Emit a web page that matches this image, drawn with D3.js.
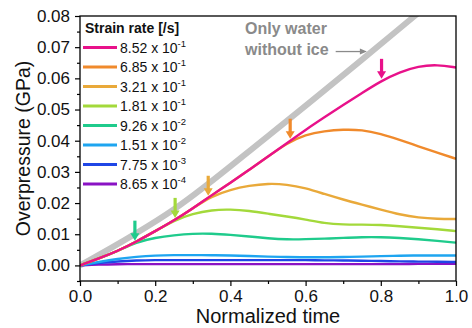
<!DOCTYPE html>
<html>
<head>
<meta charset="utf-8">
<script src="https://cdn.jsdelivr.net/npm/d3@7"></script>
<style>
  body { margin: 0; background: #fff; }
  svg { display: block; font-family: Arial, "Liberation Sans", sans-serif; }
</style>
</head>
<body>
<div id="chart"></div>
<script>
// normalized time grid
const time = [0, 0.05, 0.1, 0.15, 0.2, 0.25, 0.3, 0.35, 0.4, 0.45, 0.5,
              0.55, 0.6, 0.65, 0.7, 0.75, 0.8, 0.85, 0.9, 0.95, 1.0];

// overpressure (GPa) per strain rate
const rate852e1 = [0, 0.0022, 0.0046, 0.0076, 0.0110, 0.0144, 0.0183, 0.0225, 0.0265, 0.0307, 0.0349,
                   0.0392, 0.0435, 0.0475, 0.0515, 0.0553, 0.0591, 0.0620, 0.0639, 0.0644, 0.0635];
const rate685e1 = [0, 0.0022, 0.0046, 0.0076, 0.0110, 0.0144, 0.0183, 0.0225, 0.0265, 0.0307, 0.0349,
                   0.0392, 0.0420, 0.0431, 0.0436, 0.0435, 0.0422, 0.0403, 0.0382, 0.0362, 0.0342];
const rate321e1 = [0, 0.0022, 0.0046, 0.0076, 0.0110, 0.0144, 0.0183, 0.0222, 0.0243, 0.0256, 0.0263,
                   0.0260, 0.0248, 0.0229, 0.0211, 0.0195, 0.0179, 0.0163, 0.0153, 0.0149, 0.0149];
const rate181e1 = [0, 0.0022, 0.0046, 0.0076, 0.0110, 0.0144, 0.0166, 0.0178, 0.0180, 0.0175, 0.0166,
                   0.0157, 0.0147, 0.0135, 0.0131, 0.0131, 0.0130, 0.0126, 0.0121, 0.0116, 0.0110];
const rate926e2 = [0, 0.0022, 0.0046, 0.0075, 0.0089, 0.0097, 0.0102, 0.0102, 0.0098, 0.0093, 0.0087,
                   0.0083, 0.0084, 0.0086, 0.0088, 0.0091, 0.0091, 0.0088, 0.0084, 0.0079, 0.0073];
const rate151e2 = [0, 0.0011, 0.0021, 0.0028, 0.0032, 0.0033, 0.0033, 0.0033, 0.0032, 0.0030, 0.0028,
                   0.0027, 0.0026, 0.0026, 0.0027, 0.0028, 0.0030, 0.0031, 0.0032, 0.0032, 0.0032];
const rate775e3 = [0, 0.0008, 0.0013, 0.0016, 0.0017, 0.0017, 0.0017, 0.0017, 0.0017, 0.0017, 0.0017,
                   0.0017, 0.0017, 0.0016, 0.0016, 0.0015, 0.0014, 0.0013, 0.0012, 0.0012, 0.0011];
const rate865e4 = [0, 0.0003, 0.0004, 0.0004, 0.0004, 0.0004, 0.0004, 0.0004, 0.0004, 0.0004, 0.0004,
                   0.0004, 0.0004, 0.0004, 0.0004, 0.0004, 0.0004, 0.0004, 0.0005, 0.0005, 0.0005];

// reference: only water without ice
const waterTime = [0, 0.25, 0.5, 0.75, 0.89, 1.0];
const waterValue = [0, 0.0180, 0.0415, 0.0660, 0.0800, 0.0910];

const labels = ["8.52 x 10", "6.85 x 10", "3.21 x 10", "1.81 x 10", "9.26 x 10", "1.51 x 10", "7.75 x 10", "8.65 x 10"];
const exponents = ["-1", "-1", "-1", "-1", "-2", "-2", "-3", "-4"];
const colors = ["#e8118a", "#f08a2c", "#e9a93a", "#a3d93b", "#1fcb8c", "#1ea5f0", "#1f46e6", "#8a12c4"];
const values = [rate852e1, rate685e1, rate321e1, rate181e1, rate926e2, rate151e2, rate775e3, rate865e4];

// departure arrows (time, value) for the first five rates
const arrowTime = [0.802, 0.559, 0.341, 0.253, 0.146];
const arrowValue = [0.0592, 0.0400, 0.0217, 0.0146, 0.0073];

const xTicks = [0, 0.2, 0.4, 0.6, 0.8, 1.0];
const yTicks = [0, 0.01, 0.02, 0.03, 0.04, 0.05, 0.06, 0.07, 0.08];

const width = 472, height = 328;
const margin = {top: 16, right: 16, bottom: 47, left: 80};

const svg = d3.select("#chart").append("svg")
  .attr("width", width)
  .attr("height", height);

const x = d3.scaleLinear().domain([0, 1]).range([margin.left, width - margin.right]);
const y = d3.scaleLinear().domain([-0.005, 0.08]).range([height - margin.bottom, margin.top]);

svg.append("clipPath").attr("id", "plot")
  .append("rect")
  .attr("x", x(0)).attr("y", y(0.08))
  .attr("width", x(1) - x(0)).attr("height", y(-0.005) - y(0.08));

const line = d3.line()
  .x(d => x(d[0]))
  .y(d => y(d[1]))
  .curve(d3.curveBasis);

const plot = svg.append("g").attr("clip-path", "url(#plot)");

plot.append("path")
  .attr("d", line.curve(d3.curveMonotoneX)(d3.zip(waterTime, waterValue)))
  .attr("fill", "none")
  .attr("stroke", "#c3c3c3")
  .attr("stroke-width", 6);

line.curve(d3.curveBasis);

// slowest first so the fast ones sit on top
for (let i = values.length - 1; i >= 0; i--) {
  plot.append("path")
    .attr("d", line(d3.zip(time, values[i])))
    .attr("fill", "none")
    .attr("stroke", colors[i])
    .attr("stroke-width", 2.4)
    .attr("stroke-linejoin", "round");
}

// arrows pointing at where each rate leaves the common curve
arrowTime.forEach((t, i) => {
  const ax = x(t), tip = y(arrowValue[i]) - 2;
  const g = svg.append("g").attr("fill", colors[i]).attr("stroke", "none");
  g.append("rect").attr("x", ax - 1.6).attr("y", tip - 20).attr("width", 3.2).attr("height", 14);
  g.append("path").attr("d", `M${ax - 4.5},${tip - 7.5}L${ax + 4.5},${tip - 7.5}L${ax},${tip}Z`);
});

// axes
const axisColor = "#000";
const xMinor = d3.range(0.1, 1, 0.2);
const yMinor = d3.range(-0.005, 0.08, 0.01);

svg.append("g")
  .attr("transform", `translate(0,${y(-0.005)})`)
  .call(d3.axisBottom(x).tickValues(xTicks).tickFormat(d3.format(".1f")).tickSize(5).tickPadding(4))
  .call(g => g.select(".domain").remove());

svg.append("g")
  .attr("transform", `translate(0,${y(-0.005)})`)
  .call(d3.axisBottom(x).tickValues(xMinor).tickFormat("").tickSize(3))
  .call(g => g.select(".domain").remove());

svg.append("g")
  .attr("transform", `translate(${x(0)},0)`)
  .call(d3.axisLeft(y).tickValues(yTicks).tickFormat(d3.format(".2f")).tickSize(5).tickPadding(5))
  .call(g => g.select(".domain").remove());

svg.append("g")
  .attr("transform", `translate(${x(0)},0)`)
  .call(d3.axisLeft(y).tickValues(yMinor).tickFormat("").tickSize(3))
  .call(g => g.select(".domain").remove());

svg.selectAll(".tick line").attr("stroke", axisColor).attr("stroke-width", 1.2);
svg.selectAll(".tick text")
  .attr("fill", "#111")
  .style("font-size", "17px")
  .style("font-family", "Arial, 'Liberation Sans', sans-serif");

svg.append("rect")
  .attr("x", x(0)).attr("y", y(0.08))
  .attr("width", x(1) - x(0)).attr("height", y(-0.005) - y(0.08))
  .attr("fill", "none")
  .attr("stroke", axisColor)
  .attr("stroke-width", 1.3);

// axis titles
svg.append("text")
  .attr("x", (x(0) + x(1)) / 2)
  .attr("y", 323)
  .attr("text-anchor", "middle")
  .style("font-size", "20px")
  .attr("fill", "#111")
  .text("Normalized time");

svg.append("text")
  .attr("transform", `translate(30,${(y(-0.005) + y(0.08)) / 2}) rotate(-90)`)
  .attr("text-anchor", "middle")
  .style("font-size", "19.5px")
  .attr("fill", "#111")
  .text("Overpressure (GPa)");

// legend
const legend = svg.append("g");
legend.append("text")
  .attr("x", 85).attr("y", 33)
  .style("font-size", "14px")
  .style("font-weight", "bold")
  .attr("fill", "#111")
  .text("Strain rate [/s]");

labels.forEach((lab, i) => {
  const ly = 47.5 + i * 19.5;
  legend.append("line")
    .attr("x1", 83).attr("x2", 117)
    .attr("y1", ly).attr("y2", ly)
    .attr("stroke", colors[i])
    .attr("stroke-width", 3);
  const t = legend.append("text")
    .attr("x", 120).attr("y", ly + 5)
    .style("font-size", "14px")
    .attr("fill", "#111");
  t.append("tspan").text(lab);
  t.append("tspan").attr("dy", -6).style("font-size", "9.5px").text(exponents[i]);
});

// annotation for the water-only line
const note = svg.append("g").attr("fill", "#8a8a8a");
note.append("text").attr("x", x(0.439)).attr("y", y(0.0742))
  .style("font-size", "16px").style("font-weight", "bold").text("Only water");
note.append("text").attr("x", x(0.439)).attr("y", y(0.0675))
  .style("font-size", "16px").style("font-weight", "bold").text("without ice");
note.append("line")
  .attr("x1", x(0.68)).attr("x2", x(0.755))
  .attr("y1", y(0.0686)).attr("y2", y(0.0686))
  .attr("stroke", "#8a8a8a").attr("stroke-width", 1.3);
note.append("path")
  .attr("d", `M${x(0.763)},${y(0.0686)}l-7,-3l0,6Z`);
</script>
</body>
</html>
